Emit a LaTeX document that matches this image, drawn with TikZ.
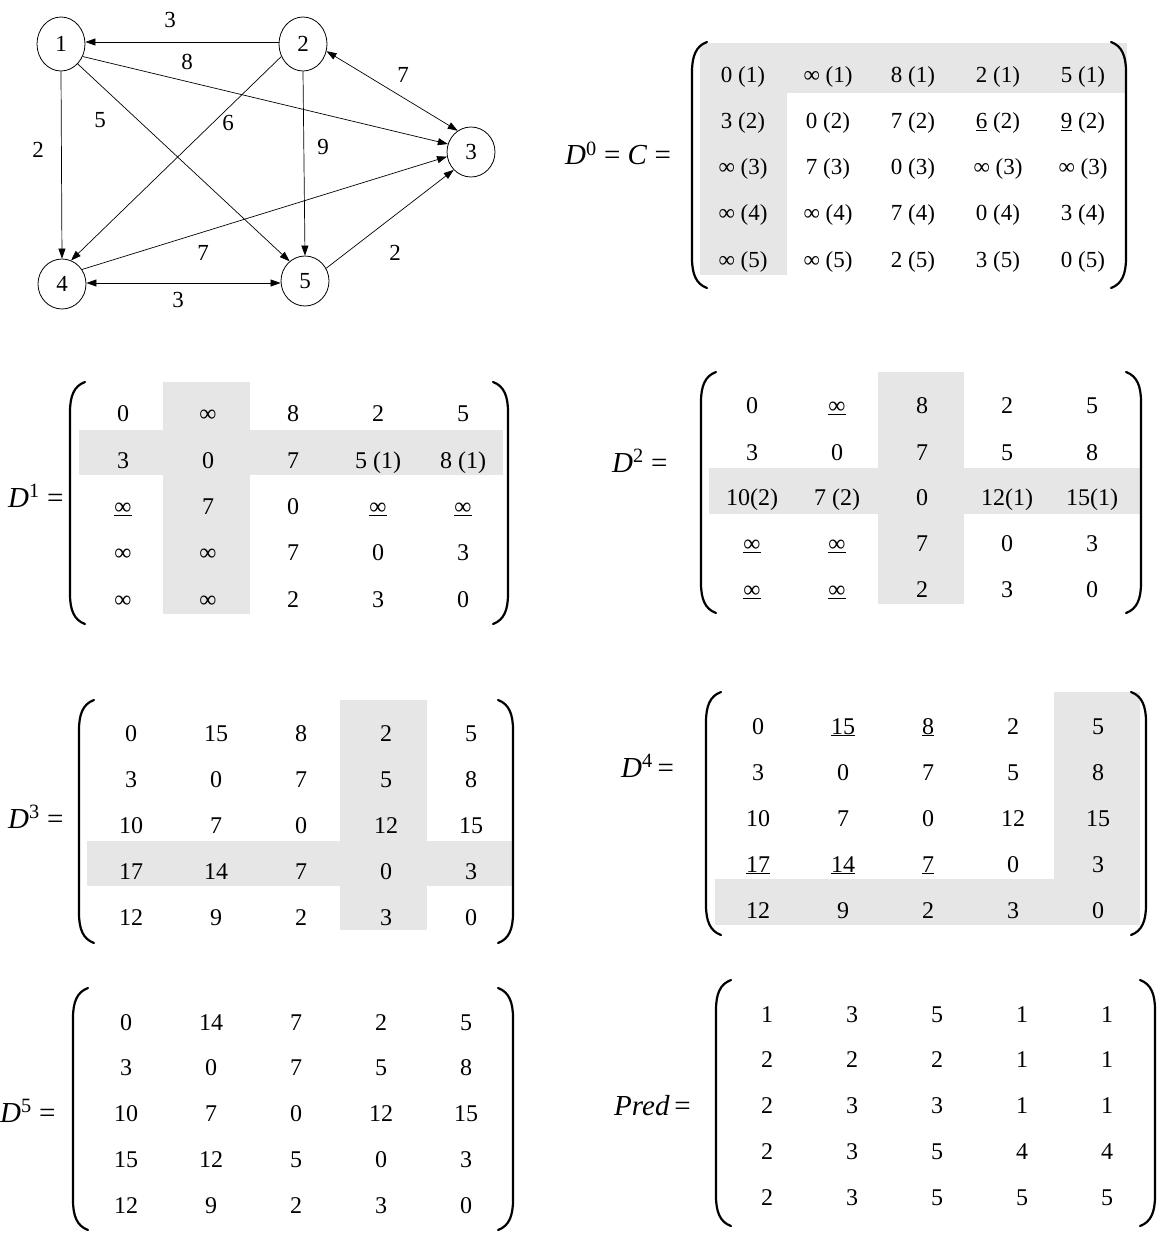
\documentclass[tikz,border=0pt]{standalone}
\usepackage{fontspec}
\setmainfont{Liberation Serif}
\usetikzlibrary{arrows.meta,shapes.geometric}
\definecolor{cellgrey}{RGB}{230,230,230}
\tikzset{
  vertex/.style={draw, ellipse, minimum width=48pt, minimum height=50pt, inner sep=0pt,
    line width=0.8pt, font=\fontsize{23}{27}\selectfont},
  edge/.style={line width=0.7pt, -{Triangle[length=10pt,width=7pt]}},
  biedge/.style={line width=0.7pt, {Triangle[length=10pt,width=7pt]}-{Triangle[length=10pt,width=7pt]}},
  weight/.style={inner sep=0pt, font=\fontsize{23}{27}\selectfont},
  entry/.style={anchor=base, inner sep=0pt, font=\fontsize{24}{28}\selectfont},
  entrysmall/.style={entry, font=\fontsize{23}{27}\selectfont},
  eqlabel/.style={anchor=base west, inner sep=0pt, font=\fontsize{29}{34}\selectfont},
  cellshade/.style={fill=cellgrey, draw=none},
  bracket/.style={line width=2.2pt, line cap=round}
}
% one row of a 5x5 matrix: style, name, row, first column x, row centre y, entries
\newcommand\matrow[6]{%
  \foreach \e [count=\c] in {#6}{%
    \node[#1] (#2-#3-\c) at ({#4+85*(\c-1)},{#5+8}) {\e};
  }}
% round brackets: left x, right x, top y, bottom y
\newcommand\brackets[4]{%
  \draw[bracket] (#1+17,#3) .. controls (#1+6,#3+4) and (#1+2,#3+14) .. (#1+2,#3+30)
    -- (#1+2,#4-30) .. controls (#1+2,#4-14) and (#1+6,#4-4) .. (#1+17,#4);
  \draw[bracket] (#2-17,#3) .. controls (#2-6,#3+4) and (#2-2,#3+14) .. (#2-2,#3+30)
    -- (#2-2,#4-30) .. controls (#2-2,#4-14) and (#2-6,#4-4) .. (#2-17,#4);
}
\newcommand\uinf{\underline{∞}}
\begin{document}
\begin{tikzpicture}[x=1pt,y=-1pt]
\useasboundingbox (0,0) rectangle (1159,1241);

% ---------- graph ----------
\node[vertex, minimum height=54pt] (n1) at (61,44) {1};
\node[vertex, minimum height=54pt] (n2) at (303,44) {2};
\node[vertex] (n3) at (471,152) {3};
\node[vertex] (n4) at (62,284) {4};
\node[vertex] (n5) at (305,281) {5};

\draw[edge] (n2.west |- 0,42) -- (n1.east |- 0,42);
\draw[edge] (n1.-30) -- (n3.161);
\draw[edge] (n1.south) -- (n4.north);
\draw[edge] (n1.-50) -- (n5.128);
\draw[edge] (n2.210) -- (n4.69);
\draw[edge] (n2.south) -- (n5.north);
\draw[biedge] (n2.-17) -- (n3.122);
\draw[edge] (n4.36) -- (n3.191);
\draw[edge] (n5.31) -- (n3.226);
\draw[biedge] (n4.east |- 0,283) -- (n5.west |- 0,283);

\node[weight] (w21) at (170,20) {3};
\node[weight] (w13) at (187,62) {8};
\node[weight] (w23) at (403,75) {7};
\node[weight] (w15) at (100,120) {5};
\node[weight] (w24) at (228,123) {6};
\node[weight] (w14) at (38,150) {2};
\node[weight] (w25) at (323,147) {9};
\node[weight] (w43) at (203,253) {7};
\node[weight] (w53) at (395,253) {2};
\node[weight] (w45) at (178,300) {3};

% ---------- D0 = C ----------
\fill[cellshade] (700,43) rectangle (1127,93);
\fill[cellshade] (700,43) rectangle (787,275);
\brackets{690}{1128}{42}{288}
\node[eqlabel] (l0) at (565,165) {\textit{D}\textsuperscript{0} = \textit{C} =};
\matrow{entrysmall}{d0}{1}{743}{75}{0 (1),∞ (1),8 (1),2 (1),5 (1)}
\matrow{entrysmall}{d0}{2}{743}{121}{3 (2),0 (2),7 (2),\underline{6} (2),\underline{9} (2)}
\matrow{entrysmall}{d0}{3}{743}{167}{∞ (3),7 (3),0 (3),∞ (3),∞ (3)}
\matrow{entrysmall}{d0}{4}{743}{213}{∞ (4),∞ (4),7 (4),0 (4),3 (4)}
\matrow{entrysmall}{d0}{5}{743}{259}{∞ (5),∞ (5),2 (5),3 (5),0 (5)}

% ---------- D1 ----------
\fill[cellshade] (163,382) rectangle (250,614);
\fill[cellshade] (79,430) rectangle (503,475);
\brackets{68}{510}{382}{624}
\node[eqlabel] (l1) at (8,507) {\textit{D}\textsuperscript{1} =};
\matrow{entry}{d1}{1}{123}{413}{0,∞,8,2,5}
\matrow{entry}{d1}{2}{123}{460}{3,0,7,5 (1),8 (1)}
\matrow{entry}{d1}{3}{123}{506}{\uinf,7,0,\uinf,\uinf}
\matrow{entry}{d1}{4}{123}{552}{∞,∞,7,0,3}
\matrow{entry}{d1}{5}{123}{599}{∞,∞,2,3,0}

% ---------- D2 ----------
\fill[cellshade] (878,372) rectangle (964,604);
\fill[cellshade] (709,468) rectangle (1141,514);
\brackets{699}{1143}{372}{613}
\node[eqlabel] (l2) at (612,472) {\textit{D}\textsuperscript{2} =};
\matrow{entry}{d2}{1}{752}{405}{0,\uinf,8,2,5}
\matrow{entry}{d2}{2}{752}{452}{3,0,7,5,8}
\matrow{entry}{d2}{3}{752}{497}{10(2),7 (2),0,12(1),15(1)}
\matrow{entry}{d2}{4}{752}{543}{\uinf,\uinf,7,0,3}
\matrow{entry}{d2}{5}{752}{589}{\uinf,\uinf,2,3,0}

% ---------- D3 ----------
\fill[cellshade] (340,700) rectangle (427,930);
\fill[cellshade] (87,841) rectangle (512,886);
\brackets{77}{515}{700}{943}
\node[eqlabel] (l3) at (8,828) {\textit{D}\textsuperscript{3} =};
\matrow{entry}{d3}{1}{131}{733}{0,15,8,2,5}
\matrow{entry}{d3}{2}{131}{779}{3,0,7,5,8}
\matrow{entry}{d3}{3}{131}{825}{10,7,0,12,15}
\matrow{entry}{d3}{4}{131}{871}{17,14,7,0,3}
\matrow{entry}{d3}{5}{131}{917}{12,9,2,3,0}

% ---------- D4 ----------
\fill[cellshade] (1054,692) rectangle (1140,925);
\fill[cellshade] (715,879) rectangle (1140,925);
\brackets{704}{1148}{692}{935}
\node[eqlabel] (l4) at (621,777) {\textit{D}\textsuperscript{4}\,=};
\matrow{entry}{d4}{1}{758}{726}{0,\underline{15},\underline{8},2,5}
\matrow{entry}{d4}{2}{758}{772}{3,0,7,5,8}
\matrow{entry}{d4}{3}{758}{818}{10,7,0,12,15}
\matrow{entry}{d4}{4}{758}{864}{\underline{17},\underline{14},\underline{7},0,3}
\matrow{entry}{d4}{5}{758}{910}{12,9,2,3,0}

% ---------- D5 ----------
\brackets{71}{515}{988}{1230}
\node[eqlabel] (l5) at (0,1122) {\textit{D}\textsuperscript{5} =};
\matrow{entry}{d5}{1}{126}{1022}{0,14,7,2,5}
\matrow{entry}{d5}{2}{126}{1067}{3,0,7,5,8}
\matrow{entry}{d5}{3}{126}{1113}{10,7,0,12,15}
\matrow{entry}{d5}{4}{126}{1159}{15,12,5,0,3}
\matrow{entry}{d5}{5}{126}{1205}{12,9,2,3,0}

% ---------- Pred ----------
\brackets{714}{1157}{980}{1226}
\node[eqlabel] (lp) at (614,1115) {\textit{Pred}\,=};
\matrow{entry}{pr}{1}{767}{1014}{1,3,5,1,1}
\matrow{entry}{pr}{2}{767}{1059}{2,2,2,1,1}
\matrow{entry}{pr}{3}{767}{1105}{2,3,3,1,1}
\matrow{entry}{pr}{4}{767}{1151}{2,3,5,4,4}
\matrow{entry}{pr}{5}{767}{1197}{2,3,5,5,5}
\end{tikzpicture}
\end{document}
